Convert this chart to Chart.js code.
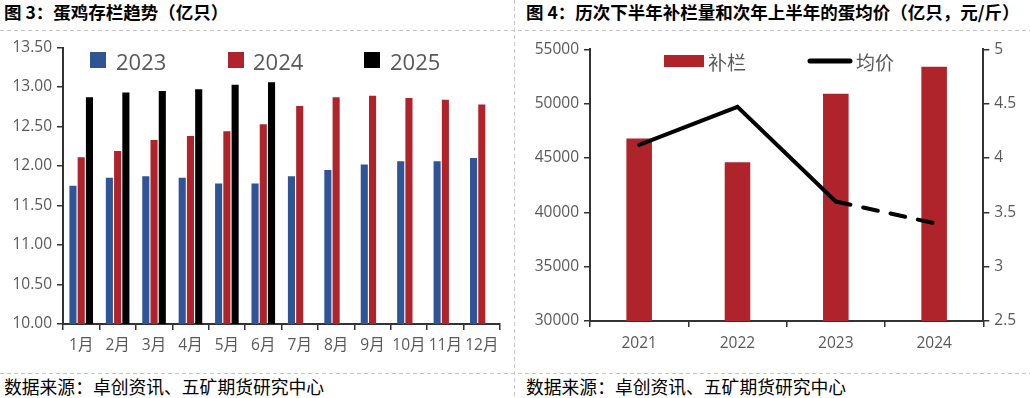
<!DOCTYPE html>
<html><head><meta charset="utf-8">
<script src="https://cdn.jsdelivr.net/npm/chart.js@4"></script>
<style>
html,body{margin:0;padding:0;background:#fff;}
#wrap{position:relative;width:1030px;height:398px;overflow:hidden;font-family:"Noto Sans CJK SC",sans-serif;}
.title{position:absolute;top:-1px;font-weight:700;font-size:17.5px;line-height:25px;color:#000;white-space:nowrap;}
.src{position:absolute;top:374px;font-size:17.8px;line-height:24px;color:#000;white-space:nowrap;}
.hd{position:absolute;height:1px;background:repeating-linear-gradient(to right,#c8c8c8 0 4px,transparent 4px 7px);}
.vd{position:absolute;width:1px;background:repeating-linear-gradient(to bottom,#c8c8c8 0 4px,transparent 4px 7px);}
.box{position:absolute;}
</style></head>
<body>
<div id="wrap">
  <div class="title" style="left:4px">图 3：蛋鸡存栏趋势（亿只）</div>
  <div class="title" style="left:526px">图 4：历次下半年补栏量和次年上半年的蛋均价（亿只，元/斤）</div>
  <div class="hd" style="left:0;top:30px;width:1030px"></div>
  <div class="hd" style="left:0;top:373px;width:1030px"></div>
  <div class="vd" style="left:514px;top:0;height:398px"></div>
  <div class="box" style="left:0;top:32px;width:512px;height:340px"><canvas id="c1" width="512" height="340"></canvas></div>
  <div class="box" style="left:516px;top:32px;width:514px;height:340px"><canvas id="c2" width="514" height="340"></canvas></div>
  <div class="src" style="left:4px">数据来源：卓创资讯、五矿期货研究中心</div>
  <div class="src" style="left:526px">数据来源：卓创资讯、五矿期货研究中心</div>
</div>
<script>
// ---- data: chart 3 ----
const months = ['1月','2月','3月','4月','5月','6月','7月','8月','9月','10月','11月','12月'];
const s2023 = [11.75,11.85,11.87,11.85,11.78,11.78,11.87,11.95,12.02,12.06,12.06,12.10];
const s2024 = [12.11,12.19,12.33,12.38,12.44,12.53,12.76,12.87,12.89,12.86,12.84,12.78];
const s2025 = [12.87,12.93,12.95,12.97,13.03,13.06,null,null,null,null,null,null];
const seriesNames3 = ['2023','2024','2025'];
// ---- data: chart 4 ----
const years = ['2021','2022','2023','2024'];
const restock = [46800,44600,50900,53400];
const avgPrice = [4.12,4.47,3.60,3.40];
const seriesNames4 = ['补栏','均价'];

const BLUE='#2F5597', RED='#AF232A', AX='#333333', TXT='#595959';
const FONT='"Open Sans","Noto Sans CJK SC",sans-serif';

const boxLegend = {
  id:'boxLegend',
  afterDraw(chart, args, opts){
    const ctx = chart.ctx;
    ctx.save();
    opts.items.forEach((it,i)=>{
      const ds = chart.data.datasets[i];
      if(it.kind==='line'){
        ctx.strokeStyle=ds.borderColor; ctx.lineWidth=it.h; ctx.lineCap='round';
        ctx.beginPath(); ctx.moveTo(it.x,it.y); ctx.lineTo(it.x+it.w,it.y); ctx.stroke();
      } else {
        ctx.fillStyle=ds.backgroundColor; ctx.fillRect(it.x,it.y-it.h/2,it.w,it.h);
      }
      ctx.fillStyle=opts.color; ctx.font=opts.font; ctx.textBaseline='alphabetic';
      ctx.fillText(ds.label, it.tx, it.ty);
    });
    ctx.restore();
  }
};

function gridOpts(){
  return {display:true,drawOnChartArea:false,drawTicks:true,tickLength:6,color:AX,lineWidth:1.5};
}

new Chart(document.getElementById('c1'),{
  type:'bar',
  data:{labels:months,datasets:[
    {label:seriesNames3[0],data:s2023,backgroundColor:BLUE},
    {label:seriesNames3[1],data:s2024,backgroundColor:RED},
    {label:seriesNames3[2],data:s2025,backgroundColor:'#000000'}
  ]},
  options:{
    responsive:false,animation:false,
    layout:{padding:{top:15.5,right:12,left:0,bottom:0}},
    datasets:{bar:{categoryPercentage:0.68,barPercentage:0.86}},
    plugins:{legend:{display:false},tooltip:{enabled:false},
      boxLegend:{color:TXT,font:'22px "Open Sans"',items:[
        {x:90,y:28,w:16,h:16,tx:116,ty:38},
        {x:228,y:28,w:16,h:16,tx:253,ty:38},
        {x:364,y:28,w:16,h:16,tx:390,ty:38}]}},
    scales:{
      x:{grid:gridOpts(),border:{color:AX,width:2},
         ticks:{color:TXT,font:{family:FONT,size:15.5},padding:6,maxRotation:0,autoSkip:false},
         afterFit(s){s.height=48;}},
      y:{min:10,max:13.5,grid:gridOpts(),border:{color:AX,width:2},
         ticks:{stepSize:0.5,color:TXT,font:{family:FONT,size:15.5},padding:5,callback:v=>Number(v).toFixed(2)},
         afterFit(s){s.width=63;}}
    }
  },
  plugins:[boxLegend]
});

new Chart(document.getElementById('c2'),{
  type:'bar',
  data:{labels:years,datasets:[
    {type:'bar',label:seriesNames4[0],data:restock,backgroundColor:RED,yAxisID:'y',order:1,
     barPercentage:0.26,categoryPercentage:1},
    {type:'line',label:seriesNames4[1],data:avgPrice,borderColor:'#000000',backgroundColor:'#000000',yAxisID:'y1',order:0,
     borderWidth:4,pointRadius:0,tension:0,borderCapStyle:'round',borderJoinStyle:'miter',
     segment:{borderDash:c=>c.p0DataIndex===2?[15,13]:undefined}}
  ]},
  options:{
    responsive:false,animation:false,
    layout:{padding:{top:17.3,right:0,left:0,bottom:0}},
    plugins:{legend:{display:false},tooltip:{enabled:false},
      boxLegend:{color:TXT,font:'19px "Noto Sans CJK SC"',items:[
        {x:148,y:29,w:40,h:12,tx:192,ty:37.5},
        {kind:'line',x:294,y:29,w:40,h:5,tx:340,ty:37.5}]}},
    scales:{
      x:{grid:gridOpts(),border:{color:AX,width:2},
         ticks:{color:TXT,font:{family:FONT,size:15.5},padding:7,maxRotation:0},
         afterFit(s){s.height=51;}},
      y:{position:'left',min:30000,max:55000,grid:gridOpts(),border:{color:AX,width:2},
         ticks:{stepSize:5000,color:TXT,font:{family:FONT,size:15.5},padding:5,callback:v=>String(v)},
         afterFit(s){s.width=74;}},
      y1:{position:'right',min:2.5,max:5,grid:gridOpts(),border:{color:AX,width:2},
         ticks:{stepSize:0.5,color:TXT,font:{family:FONT,size:15.5},padding:5,callback:v=>String(v)},
         afterFit(s){s.width=46.7;}}
    }
  },
  plugins:[boxLegend]
});
</script>
</body></html>
